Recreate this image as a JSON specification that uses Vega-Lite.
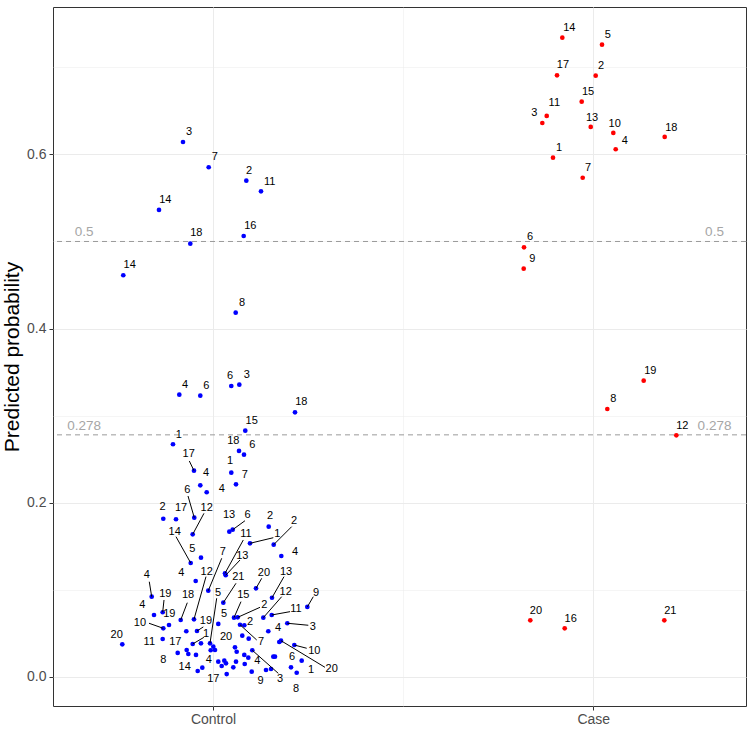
{
  "$schema": "https://vega.github.io/schema/vega-lite/v6.json",
  "width": 693,
  "height": 699,
  "autosize": {"type": "none"},
  "padding": {"left": 53, "top": 7, "right": 6, "bottom": 23},
  "background": "white",
  "config": {
    "font": "Liberation Sans",
    "view": {"stroke": "#333333", "strokeWidth": 1}
  },
  "datasets": {
    "pts": [
      {"g":"Case","x":1.9185,"y":0.7340,"label":"14","lx":1.9369,"ly":0.7448},
      {"g":"Case","x":2.0229,"y":0.7260,"label":"5","lx":2.0379,"ly":0.7371},
      {"g":"Case","x":1.9046,"y":0.6908,"label":"17","lx":1.9203,"ly":0.7026},
      {"g":"Case","x":2.0063,"y":0.6904,"label":"2","lx":2.0202,"ly":0.7018},
      {"g":"Case","x":1.9695,"y":0.6605,"label":"15","lx":1.9861,"ly":0.6716},
      {"g":"Case","x":1.8775,"y":0.6441,"label":"11","lx":1.8975,"ly":0.6590},
      {"g":"Case","x":1.8659,"y":0.6360,"label":"3","lx":1.8449,"ly":0.6472},
      {"g":"Case","x":1.9932,"y":0.6315,"label":"13","lx":1.9966,"ly":0.6421},
      {"g":"Case","x":2.0526,"y":0.6246,"label":"10","lx":2.0563,"ly":0.6352},
      {"g":"Case","x":2.1877,"y":0.6200,"label":"18","lx":2.2051,"ly":0.6307},
      {"g":"Case","x":2.0589,"y":0.6059,"label":"4","lx":2.0826,"ly":0.6150},
      {"g":"Case","x":1.8940,"y":0.5962,"label":"1","lx":1.9098,"ly":0.6073},
      {"g":"Case","x":1.9721,"y":0.5732,"label":"7","lx":1.9861,"ly":0.5844},
      {"g":"Case","x":1.8178,"y":0.4933,"label":"6","lx":1.8336,"ly":0.5048},
      {"g":"Case","x":1.8170,"y":0.4688,"label":"9","lx":1.8396,"ly":0.4799},
      {"g":"Case","x":2.1325,"y":0.3402,"label":"19","lx":2.1499,"ly":0.3517},
      {"g":"Case","x":2.0368,"y":0.3077,"label":"8","lx":2.0526,"ly":0.3188},
      {"g":"Case","x":2.2183,"y":0.2775,"label":"12","lx":2.2341,"ly":0.2885},
      {"g":"Case","x":1.8343,"y":0.0651,"label":"20","lx":1.8493,"ly":0.0761},
      {"g":"Case","x":1.9248,"y":0.0559,"label":"16","lx":1.9406,"ly":0.0669},
      {"g":"Case","x":2.1867,"y":0.0651,"label":"21","lx":2.2025,"ly":0.0761},
      {"g":"Control","x":0.9211,"y":0.6142,"label":"3","lx":0.9369,"ly":0.6257},
      {"g":"Control","x":0.9887,"y":0.5852,"label":"7","lx":1.0045,"ly":0.5967},
      {"g":"Control","x":1.0876,"y":0.5698,"label":"2","lx":1.0947,"ly":0.5813},
      {"g":"Control","x":1.1262,"y":0.5576,"label":"11","lx":1.1491,"ly":0.5687},
      {"g":"Control","x":0.8580,"y":0.5362,"label":"14","lx":0.8746,"ly":0.5473},
      {"g":"Control","x":1.0807,"y":0.5063,"label":"16","lx":1.0981,"ly":0.5178},
      {"g":"Control","x":0.9403,"y":0.4975,"label":"18","lx":0.9561,"ly":0.5094},
      {"g":"Control","x":0.7641,"y":0.4612,"label":"14","lx":0.7810,"ly":0.4727},
      {"g":"Control","x":1.0597,"y":0.4183,"label":"8","lx":1.0763,"ly":0.4297},
      {"g":"Control","x":0.9114,"y":0.3241,"label":"4","lx":0.9264,"ly":0.3352},
      {"g":"Control","x":0.9666,"y":0.3230,"label":"6","lx":0.9824,"ly":0.3341},
      {"g":"Control","x":1.0481,"y":0.3341,"label":"6","lx":1.0447,"ly":0.3459},
      {"g":"Control","x":1.0692,"y":0.3356,"label":"3","lx":1.0886,"ly":0.3467},
      {"g":"Control","x":1.2156,"y":0.3039,"label":"18","lx":1.2322,"ly":0.3154},
      {"g":"Control","x":1.0849,"y":0.2828,"label":"15","lx":1.1018,"ly":0.2939},
      {"g":"Control","x":0.8948,"y":0.2672,"label":"1","lx":0.9098,"ly":0.2778},
      {"g":"Control","x":1.0684,"y":0.2595,"label":"18","lx":1.0534,"ly":0.2710},
      {"g":"Control","x":1.0815,"y":0.2552,"label":"6","lx":1.1033,"ly":0.2667},
      {"g":"Control","x":0.9500,"y":0.2369,"label":"17","lx":0.9361,"ly":0.2560,"ex":0.9377,"ey":0.2480},
      {"g":"Control","x":1.0481,"y":0.2346,"label":"1","lx":1.0447,"ly":0.2480},
      {"g":"Control","x":0.9666,"y":0.2201,"label":"4","lx":0.9816,"ly":0.2346},
      {"g":"Control","x":1.0605,"y":0.2212,"label":"7","lx":1.0834,"ly":0.2323},
      {"g":"Control","x":0.9834,"y":0.2121,"label":"4","lx":1.0229,"ly":0.2158},
      {"g":"Control","x":0.9508,"y":0.1829,"label":"6","lx":0.9324,"ly":0.2147,"ex":0.9343,"ey":0.2078},
      {"g":"Control","x":0.8693,"y":0.1817,"label":"2","lx":0.8677,"ly":0.1948},
      {"g":"Control","x":0.9027,"y":0.1811,"label":"17","lx":0.9159,"ly":0.1937},
      {"g":"Control","x":0.9466,"y":0.1638,"label":"12","lx":0.9834,"ly":0.1937,"ex":0.9763,"ey":0.1879},
      {"g":"Control","x":0.9414,"y":0.1309,"label":"14","lx":0.8993,"ly":0.1668,"ex":0.9027,"ey":0.1611},
      {"g":"Control","x":0.9684,"y":0.1370,"label":"5","lx":0.9456,"ly":0.1466},
      {"g":"Control","x":0.9545,"y":0.1102,"label":"4","lx":0.9166,"ly":0.1197},
      {"g":"Control","x":0.9500,"y":0.0662,"label":"12","lx":0.9834,"ly":0.1209,"ex":0.9816,"ey":0.1152},
      {"g":"Control","x":0.8388,"y":0.0922,"label":"4","lx":0.8257,"ly":0.1171,"ex":0.8325,"ey":0.1094},
      {"g":"Control","x":0.8677,"y":0.0743,"label":"19","lx":0.8746,"ly":0.0953,"ex":0.8712,"ey":0.0884},
      {"g":"Control","x":0.8449,"y":0.0712,"label":"4","lx":0.8141,"ly":0.0827},
      {"g":"Control","x":0.8843,"y":0.0597,"label":"19","lx":0.8851,"ly":0.0723},
      {"g":"Control","x":0.8693,"y":0.0559,"label":"10","lx":0.8080,"ly":0.0617,"ex":0.8317,"ey":0.0617},
      {"g":"Control","x":0.9151,"y":0.0654,"label":"18","lx":0.9343,"ly":0.0941,"ex":0.9324,"ey":0.0853},
      {"g":"Control","x":0.9876,"y":0.0991,"label":"7","lx":1.0255,"ly":0.1439,"ex":1.0229,"ey":0.1363},
      {"g":"Control","x":1.0139,"y":0.0609,"label":"5","lx":1.0289,"ly":0.0723},
      {"g":"Control","x":0.9298,"y":0.0525},
      {"g":"Control","x":0.9579,"y":0.0528,"label":"19","lx":0.9816,"ly":0.0640,"ex":0.9745,"ey":0.0575},
      {"g":"Control","x":0.8677,"y":0.0436,"label":"11","lx":0.8325,"ly":0.0398},
      {"g":"Control","x":0.7615,"y":0.0375,"label":"20","lx":0.7468,"ly":0.0482},
      {"g":"Control","x":0.9466,"y":0.0379,"label":"1","lx":0.9816,"ly":0.0490,"ex":0.9760,"ey":0.0455},
      {"g":"Control","x":0.9684,"y":0.0387},
      {"g":"Control","x":0.9921,"y":0.0387,"label":"5","lx":1.0131,"ly":0.0961,"ex":1.0097,"ey":0.0904},
      {"g":"Control","x":1.0008,"y":0.0348},
      {"g":"Control","x":1.0053,"y":0.0310},
      {"g":"Control","x":0.9940,"y":0.0307},
      {"g":"Control","x":0.9308,"y":0.0310,"label":"17","lx":0.9009,"ly":0.0398},
      {"g":"Control","x":0.9351,"y":0.0264},
      {"g":"Control","x":0.9072,"y":0.0276,"label":"8","lx":0.8693,"ly":0.0195},
      {"g":"Control","x":0.9553,"y":0.0253},
      {"g":"Control","x":1.0139,"y":0.0176,"label":"4","lx":0.9887,"ly":0.0195},
      {"g":"Control","x":0.9719,"y":0.0107,"label":"14","lx":0.9256,"ly":0.0118},
      {"g":"Control","x":0.9598,"y":0.0069},
      {"g":"Control","x":1.0360,"y":0.0034,"label":"17","lx":1.0008,"ly":-0.0026},
      {"g":"Control","x":1.0271,"y":0.0853,"label":"21","lx":1.0665,"ly":0.1145,"ex":1.0605,"ey":0.1076},
      {"g":"Control","x":1.0552,"y":0.0681,"label":"15","lx":1.0797,"ly":0.0941,"ex":1.0736,"ey":0.0865},
      {"g":"Control","x":1.1323,"y":0.0681,"label":"12","lx":1.1912,"ly":0.0979,"ex":1.1806,"ey":0.0922},
      {"g":"Control","x":1.1544,"y":0.0712,"label":"11","lx":1.2182,"ly":0.0777,"ex":1.2025,"ey":0.0750},
      {"g":"Control","x":1.1551,"y":0.0910,"label":"13","lx":1.1920,"ly":0.1209,"ex":1.1867,"ey":0.1152},
      {"g":"Control","x":1.2480,"y":0.0804,"label":"9","lx":1.2708,"ly":0.0964,"ex":1.2637,"ey":0.0922},
      {"g":"Control","x":1.0649,"y":0.0685,"label":"2","lx":1.1349,"ly":0.0827,"ex":1.1236,"ey":0.0800},
      {"g":"Control","x":1.0710,"y":0.0600,"label":"7","lx":1.1262,"ly":0.0398,"ex":1.1149,"ey":0.0425},
      {"g":"Control","x":1.0823,"y":0.0594,"label":"2","lx":1.0973,"ly":0.0628},
      {"g":"Control","x":1.1454,"y":0.0525,"label":"4","lx":1.1709,"ly":0.0566},
      {"g":"Control","x":1.1954,"y":0.0617,"label":"3","lx":1.2622,"ly":0.0578,"ex":1.2506,"ey":0.0594},
      {"g":"Control","x":1.0770,"y":0.0474},
      {"g":"Control","x":1.0939,"y":0.0440},
      {"g":"Control","x":1.2138,"y":0.0367,"label":"10","lx":1.2664,"ly":0.0299,"ex":1.2464,"ey":0.0330},
      {"g":"Control","x":1.1788,"y":0.0417,"label":"20","lx":1.3121,"ly":0.0088,"ex":1.2945,"ey":0.0111},
      {"g":"Control","x":1.1743,"y":0.0402},
      {"g":"Control","x":1.2051,"y":0.0111,"label":"6","lx":1.2077,"ly":0.0233},
      {"g":"Control","x":1.2201,"y":0.0049,"label":"8","lx":1.2182,"ly":-0.0134},
      {"g":"Control","x":1.2332,"y":0.0187,"label":"1","lx":1.2577,"ly":0.0080},
      {"g":"Control","x":1.1033,"y":0.0307,"label":"3","lx":1.1762,"ly":-0.0026,"ex":1.1717,"ey":0.0042},
      {"g":"Control","x":1.1586,"y":0.0233},
      {"g":"Control","x":1.1630,"y":0.0233},
      {"g":"Control","x":1.1394,"y":0.0080},
      {"g":"Control","x":1.1525,"y":0.0092},
      {"g":"Control","x":1.1018,"y":0.0061,"label":"9","lx":1.1254,"ly":-0.0042},
      {"g":"Control","x":1.0823,"y":0.0253},
      {"g":"Control","x":1.0928,"y":0.0222,"label":"4","lx":1.1165,"ly":0.0184},
      {"g":"Control","x":1.0834,"y":0.0149},
      {"g":"Control","x":1.0605,"y":0.0176},
      {"g":"Control","x":1.0623,"y":0.0290},
      {"g":"Control","x":1.0578,"y":0.0341,"label":"20","lx":1.0342,"ly":0.0456},
      {"g":"Control","x":1.0534,"y":0.0111},
      {"g":"Control","x":1.0342,"y":0.0157},
      {"g":"Control","x":1.0297,"y":0.0187},
      {"g":"Control","x":1.0229,"y":0.0126},
      {"g":"Control","x":1.0429,"y":0.1668,"label":"13","lx":1.0421,"ly":0.1860},
      {"g":"Control","x":1.0518,"y":0.1691,"label":"6","lx":1.0912,"ly":0.1860,"ex":1.0841,"ey":0.1794},
      {"g":"Control","x":1.1465,"y":0.1726,"label":"2","lx":1.1499,"ly":0.1852},
      {"g":"Control","x":1.1596,"y":0.1519,"label":"2","lx":1.2130,"ly":0.1794,"ex":1.2069,"ey":0.1726},
      {"g":"Control","x":1.0316,"y":0.1191,"label":"11","lx":1.0868,"ly":0.1642,"ex":1.0797,"ey":0.1573},
      {"g":"Control","x":1.0334,"y":0.1168,"label":"13","lx":1.0770,"ly":0.1393,"ex":1.0710,"ey":0.1343},
      {"g":"Control","x":1.0973,"y":0.1535,"label":"1","lx":1.1691,"ly":0.1642,"ex":1.1586,"ey":0.1599},
      {"g":"Control","x":1.1796,"y":0.1389,"label":"4","lx":1.2156,"ly":0.1439},
      {"g":"Control","x":1.1131,"y":0.1018,"label":"20","lx":1.1341,"ly":0.1197,"ex":1.1281,"ey":0.1133}
    ],
    "thr": [
      {"v": 0.5, "t": "0.5"},
      {"v": 0.278, "t": "0.278"}
    ]
  },
  "encoding": {
    "x": {"type": "quantitative", "scale": {"domain": [0.5793, 2.4015], "nice": false, "zero": false}},
    "y": {"type": "quantitative", "scale": {"domain": [-0.0333, 0.7692], "nice": false, "zero": false}}
  },
  "layer": [
    {
      "data": {"name": "thr"},
      "mark": {"type": "rule", "strokeDash": [5, 4], "color": "#9A9A9A", "strokeWidth": 1},
      "encoding": {
        "y": {"field": "v", "type": "quantitative", "title": "Predicted probability",
          "axis": {"values": [0, 0.1, 0.2, 0.3, 0.4, 0.5, 0.6, 0.7],
            "domain": false, "gridColor": "#EBEBEB", "tickColor": "#333333", "tickSize": 4,
            "labelColor": "#4D4D4D", "labelFontSize": 14, "labelFont": "Liberation Sans", "labelPadding": 3,
            "titleFont": "Liberation Sans", "titleFontWeight": "normal", "titleColor": "#000000", "titleFontSize": 21,
            "labelExpr": "round(datum.value*10)%2==0 ? format(datum.value, '.1f') : ''",
            "tickOpacity": {"condition": {"test": "round(datum.value*10)%2==1", "value": 0}, "value": 1},
            "gridWidth": {"condition": {"test": "round(datum.value*10)%2==1", "value": 0.5}, "value": 1},
            "titlePadding": 4}}
      }
    },
    {
      "data": {"name": "pts"},
      "mark": {"type": "point", "filled": true, "opacity": 1, "size": 22, "strokeWidth": 0},
      "encoding": {
        "x": {"field": "x", "type": "quantitative", "title": null,
          "axis": {"values": [1, 1.5, 2],
            "domain": false, "gridColor": "#EBEBEB", "tickColor": "#333333", "tickSize": 4,
            "labelColor": "#4D4D4D", "labelFontSize": 14, "labelFont": "Liberation Sans", "labelPadding": 2,
            "labelExpr": "datum.value == 1 ? 'Control' : datum.value == 2 ? 'Case' : ''",
            "tickOpacity": {"condition": {"test": "datum.value == 1.5", "value": 0}, "value": 1},
            "gridWidth": {"condition": {"test": "datum.value == 1.5", "value": 0.5}, "value": 1}}},
        "y": {"field": "y", "type": "quantitative", "title": "Predicted probability"},
        "color": {"field": "g", "type": "nominal", "scale": {"domain": ["Control", "Case"], "range": ["#0000FF", "#FF0000"]}, "legend": null}
      }
    },
    {
      "data": {"name": "pts"},
      "transform": [{"filter": {"field": "ex", "valid": true}}],
      "mark": {"type": "rule", "color": "#000000", "strokeWidth": 1},
      "encoding": {
        "x": {"field": "x", "type": "quantitative", "title": null},
        "y": {"field": "y", "type": "quantitative", "title": "Predicted probability"},
        "x2": {"field": "ex"},
        "y2": {"field": "ey"}
      }
    },
    {
      "data": {"name": "pts"},
      "transform": [{"filter": {"field": "label", "valid": true}}],
      "mark": {"type": "text", "fontSize": 11, "font": "Liberation Sans", "color": "#000000", "align": "center", "baseline": "middle"},
      "encoding": {
        "x": {"field": "lx", "type": "quantitative", "title": null},
        "y": {"field": "ly", "type": "quantitative", "title": "Predicted probability"},
        "text": {"field": "label"}
      }
    },
    {
      "data": {"name": "thr"},
      "mark": {"type": "text", "fontSize": 13.5, "font": "Liberation Sans", "color": "#A6A6A6", "align": "center", "baseline": "middle", "dy": -9},
      "encoding": {
        "x": {"datum": 0.6614, "type": "quantitative"},
        "y": {"field": "v", "type": "quantitative", "title": "Predicted probability"},
        "text": {"field": "t"}
      }
    },
    {
      "data": {"name": "thr"},
      "mark": {"type": "text", "fontSize": 13.5, "font": "Liberation Sans", "color": "#A6A6A6", "align": "center", "baseline": "middle", "dy": -9},
      "encoding": {
        "x": {"datum": 2.3187, "type": "quantitative"},
        "y": {"field": "v", "type": "quantitative", "title": "Predicted probability"},
        "text": {"field": "t"}
      }
    }
  ]
}
